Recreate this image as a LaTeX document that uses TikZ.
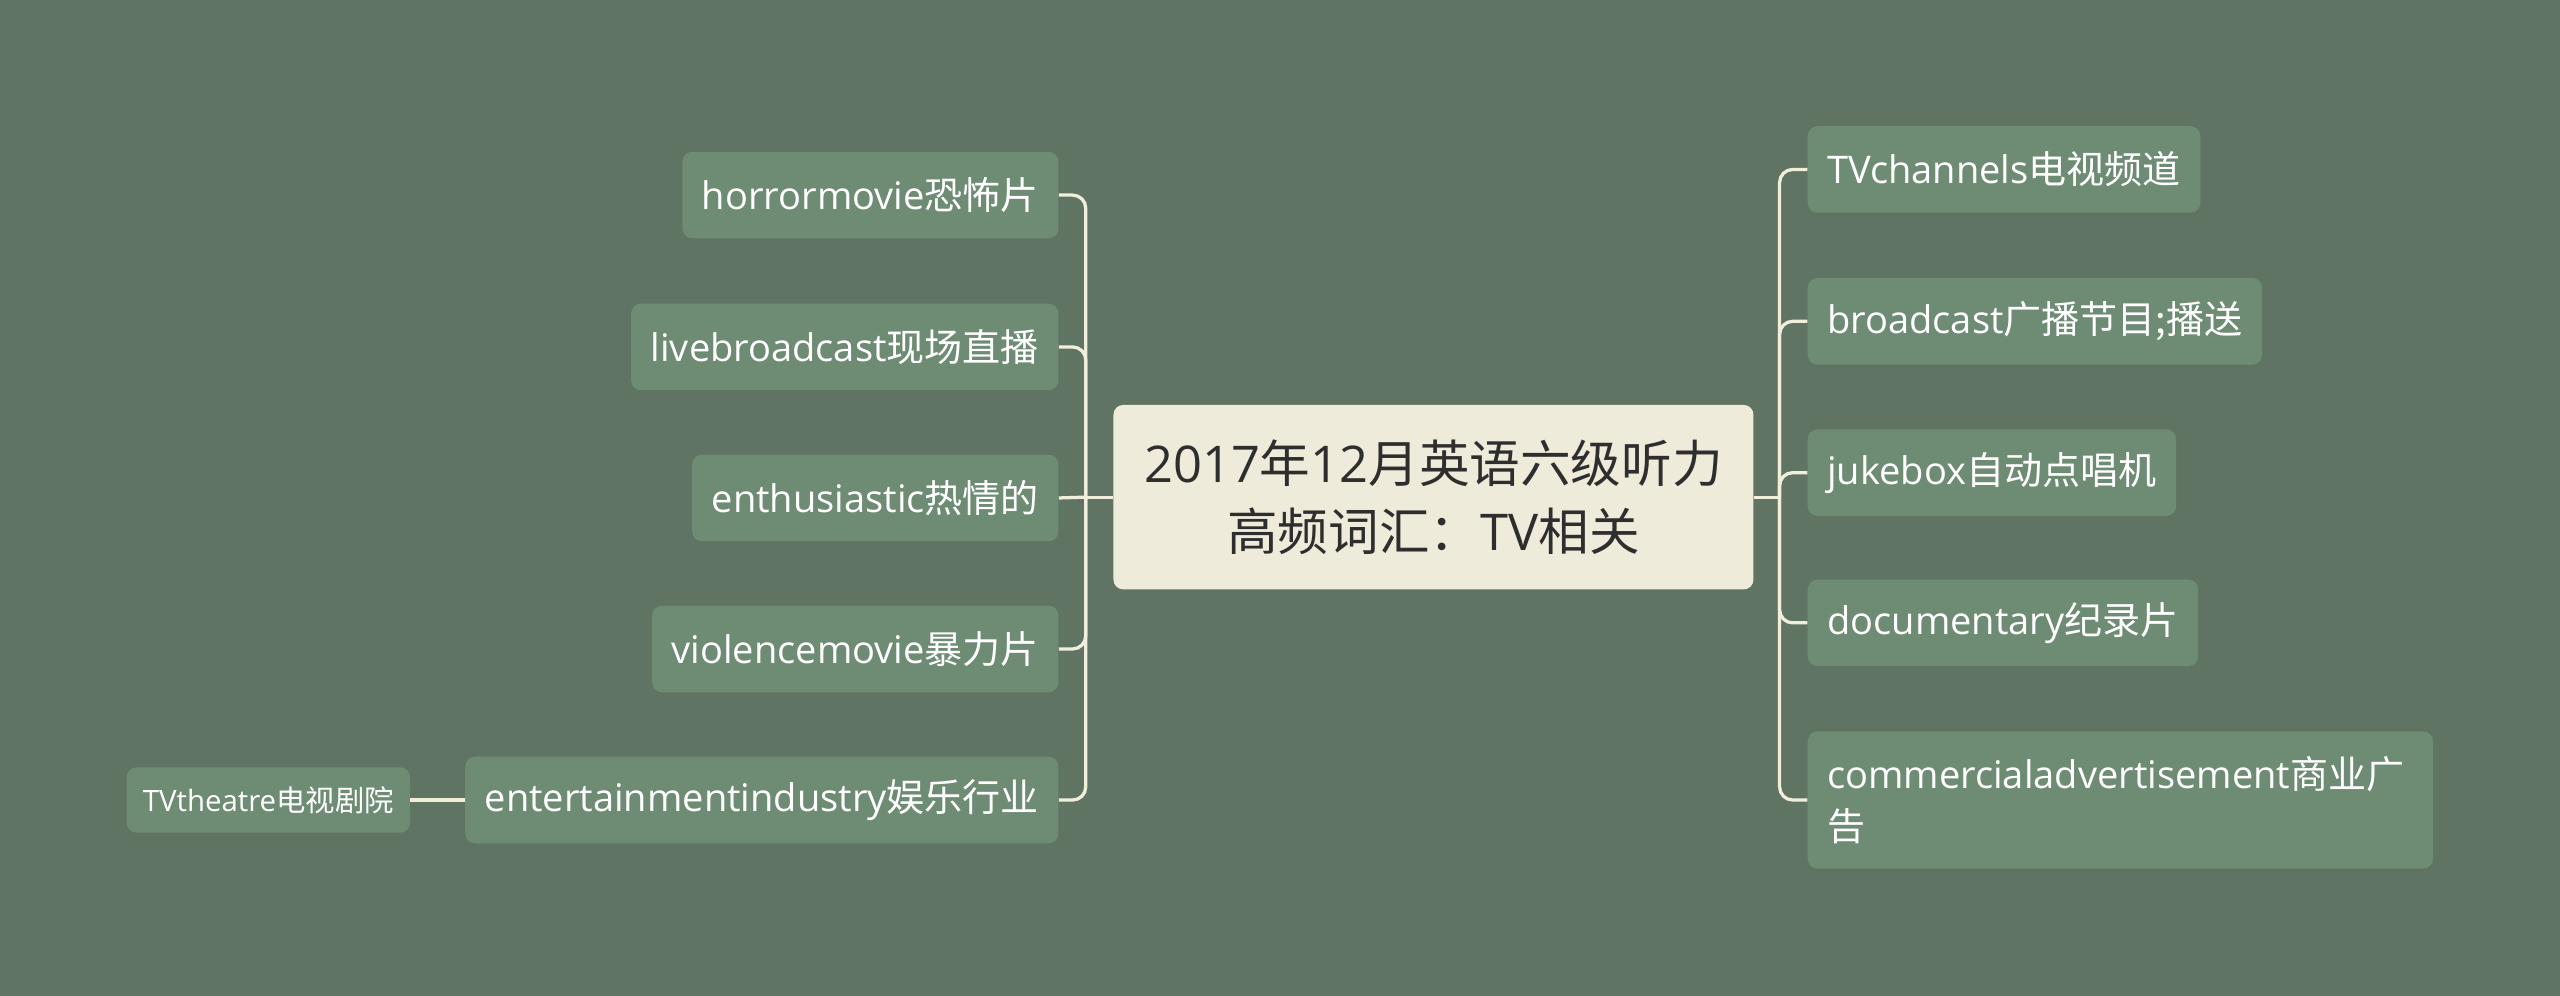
\documentclass[tikz,border=0pt]{standalone}
\usepackage{fontspec}
\setmainfont{Noto Sans CJK SC}
\newfontfamily\en{Open Sans}
\definecolor{bgcol}{HTML}{5F7462}
\definecolor{leafcol}{HTML}{6E8C74}
\definecolor{rootcol}{HTML}{EFEBDA}
\definecolor{linecol}{HTML}{F2EEDC}
\definecolor{inkcol}{HTML}{2E2E2E}
\tikzset{
  leaf/.style={fill=leafcol,text=white,rounded corners=6pt,inner xsep=12pt,
    minimum height=53pt,font=\fontsize{23.3}{32}\selectfont},
  subleaf/.style={leaf,inner xsep=10pt,minimum height=40pt,
    font=\fontsize{18}{24}\selectfont},
  link/.style={draw=linecol,line width=2pt,rounded corners=8pt}
}
\begin{document}
\begin{tikzpicture}[x=1pt,y=-1pt]
\useasboundingbox (0,0) rectangle (1568,610);
\fill [bgcol] (0,0) rectangle (1568,610);
% centre
\node [fill=rootcol,text=inkcol,rounded corners=6pt,minimum width=392pt,minimum height=113pt,
  align=center,font=\fontsize{31}{42}\selectfont] (root) at (878,304.5)
  {{\en 2017}年{\en 12}月英语六级听力\\高频词汇：{\en TV}相关};
\coordinate (lbus) at (665,304.5);
\coordinate (rbus) at (1090,304.5);
% left side
\node [leaf,anchor=east] (horror) at (648.5,119.5) {{\en horrormovie}恐怖片};
\node [leaf,anchor=east] (live) at (648.5,212.5) {{\en livebroadcast}现场直播};
\node [leaf,anchor=east] (enth) at (648.5,305) {{\en enthusiastic}热情的};
\node [leaf,anchor=east] (violence) at (648.5,397.5) {{\en violencemovie}暴力片};
\node [leaf,anchor=east] (ent) at (648.5,490) {{\en entertainmentindustry}娱乐行业};
\node [subleaf,anchor=east] (theatre) at (251.4,490) {{\en TVtheatre}电视剧院};
% right side
\node [leaf,anchor=west] (channels) at (1107,103.8) {{\en TVchannels}电视频道};
\node [leaf,anchor=west] (bcast) at (1107,196.8) {{\en broadcast}广播节目;播送};
\node [leaf,anchor=west] (juke) at (1107,289.5) {{\en jukebox}自动点唱机};
\node [leaf,anchor=west] (doc) at (1107,381.5) {{\en documentary}纪录片};
\node [leaf,anchor=west,text width=359pt,align=left,minimum height=84pt] (ad) at (1107,490)
  {{\en commercialadvertisement}商业广\\告};
% connectors
\draw [link] (root.west) -- (lbus);
\draw [link] (lbus) |- (horror.east);
\draw [link] (lbus) |- (live.east);
\draw [link] (lbus) -- (enth.east);
\draw [link] (lbus) |- (violence.east);
\draw [link] (lbus) |- (ent.east);
\draw [link] (ent.west) -- (theatre.east);
\draw [link] (root.east) -- (rbus);
\draw [link] (rbus) |- (channels.west);
\draw [link] (rbus) |- (bcast.west);
\draw [link] (rbus) |- (juke.west);
\draw [link] (rbus) |- (doc.west);
\draw [link] (rbus) |- (ad.west);
\end{tikzpicture}
\end{document}
